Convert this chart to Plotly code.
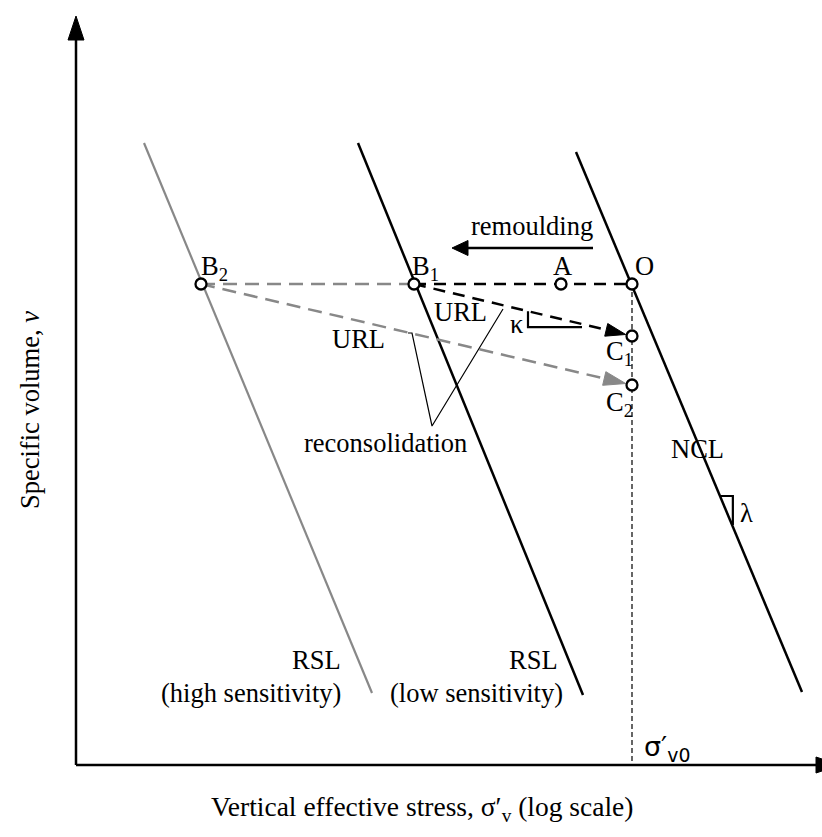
import math
import plotly.graph_objects as go

# ---- chart data (x: log vertical effective stress, v: specific volume; arbitrary units) ----
ncl_x = [5.00, 7.26]
ncl_v = [6.13, 0.73]
rsl_low_x = [2.82, 5.07]
rsl_low_v = [6.22, 0.70]
rsl_high_x = [0.68, 2.96]
rsl_high_v = [6.22, 0.72]

point_names = ["O", "A", "B1", "B2", "C1", "C2"]
point_x = [5.56, 4.85, 3.38, 1.25, 5.56, 5.56]
point_v = [4.81, 4.81, 4.81, 4.81, 4.29, 3.80]

remould_x = [5.17, 3.76]   # remoulding arrow: start, tip
remould_v = [5.17, 5.17]

leader_x = [3.32, 3.36, 3.56, 4.27]   # "reconsolidation" pointer lines
leader_v = [4.32, 4.32, 3.39, 4.56]

kappa_x = [4.52, 5.06]      # slope marker span on the URL
lambda_v = [2.69, 2.40]     # slope marker span on the NCL

axis_x_end = 7.64
axis_v_end = 7.49

P = dict(zip(point_names, zip(point_x, point_v)))

FONT = "Liberation Serif, Times New Roman, serif"
BLACK = "#000000"
GREY = "#888888"
PX = 100.0  # screen pixels per unit on both axes
LBL = 26.5

fig = go.Figure()


def line(xs, ys, color=BLACK, width=2.5, dash="solid"):
    fig.add_trace(go.Scatter(x=xs, y=ys, mode="lines", hoverinfo="skip",
                             line=dict(color=color, width=width, dash=dash)))


def head(tip, frm, length_px, half_px, color):
    dx, dy = tip[0] - frm[0], tip[1] - frm[1]
    n = math.hypot(dx, dy)
    ux, uy = dx / n, dy / n
    bx, by = tip[0] - ux * length_px / PX, tip[1] - uy * length_px / PX
    px_, py_ = -uy * half_px / PX, ux * half_px / PX
    xs = [tip[0], bx + px_, bx - px_, tip[0]]
    ys = [tip[1], by + py_, by - py_, tip[1]]
    fig.add_trace(go.Scatter(x=xs, y=ys, mode="lines", fill="toself", fillcolor=color,
                             line=dict(color=color, width=1), hoverinfo="skip"))
    return (bx, by)


def back_off(a, b, dist):
    dx, dy = b[0] - a[0], b[1] - a[1]
    n = math.hypot(dx, dy)
    return (b[0] - dx / n * dist, b[1] - dy / n * dist)


# axes with arrowheads
line([0, 0], [0, axis_v_end - 0.2])
head((0, axis_v_end), (0, 0), 24, 8, BLACK)
line([0, axis_x_end - 0.2], [0, 0])
head((axis_x_end, 0), (0, 0), 24, 8, BLACK)

# compression lines
line(rsl_high_x, rsl_high_v, color=GREY, width=2.2)
line(rsl_low_x, rsl_low_v, width=2.5)
line(ncl_x, ncl_v, width=2.5)

# vertical reference at sigma'v0
line([P["O"][0], P["O"][0]], [P["O"][1], 0], width=1.2, dash="5px,3px")

# remoulding paths along constant volume
line([P["B2"][0], P["B1"][0]], [P["B2"][1], P["B1"][1]], color=GREY, width=2.5, dash="14px,8px")
line([P["B1"][0], P["O"][0]], [P["B1"][1], P["O"][1]], width=2.5, dash="12px,8px")

# reconsolidation paths (URL)
tip2 = back_off(P["B2"], P["C2"], 0.065)
base2 = head(tip2, P["B2"], 22, 7, GREY)
line([P["B2"][0], base2[0]], [P["B2"][1], base2[1]], color=GREY, width=2.5, dash="14px,8px")

tip1 = back_off(P["B1"], P["C1"], 0.065)
base1 = head(tip1, P["B1"], 20, 6.5, BLACK)
line([P["B1"][0], base1[0]], [P["B1"][1], base1[1]], width=2.5, dash="12px,8px")

# remoulding arrow
rb = head((remould_x[1], remould_v[1]), (remould_x[0], remould_v[0]), 16, 7.5, BLACK)
line([remould_x[0], rb[0]], [remould_v[0], rb[1]], width=2.5)

# kappa slope marker
b1, c1 = P["B1"], P["C1"]
url_slope = (c1[1] - b1[1]) / (c1[0] - b1[0])
k_top = b1[1] + url_slope * (kappa_x[0] - b1[0])
k_low = b1[1] + url_slope * (kappa_x[1] - b1[0]) - 0.03
line([kappa_x[0], kappa_x[0], kappa_x[1]], [k_top, k_low, k_low], width=2.2)

# lambda slope marker
o = P["O"]
ncl_dxdv = (ncl_x[1] - ncl_x[0]) / (ncl_v[1] - ncl_v[0])
l_x1 = o[0] + ncl_dxdv * (lambda_v[0] - o[1])
l_x2 = o[0] + ncl_dxdv * (lambda_v[1] - o[1])
line([l_x1, l_x2, l_x2], [lambda_v[0], lambda_v[0], lambda_v[1]], width=2.2)

# reconsolidation pointer lines
line(leader_x, leader_v, width=1.2)

# state points
fig.add_trace(go.Scatter(x=point_x, y=point_v, mode="markers", hoverinfo="skip",
                         marker=dict(size=11, color="white", line=dict(color=BLACK, width=2.3))))

# ---- text ----
def label(x, y, text, size=LBL, xanchor="center", yanchor="middle", color=BLACK, family=FONT):
    fig.add_annotation(x=x, y=y, text=text, showarrow=False, xanchor=xanchor, yanchor=yanchor,
                       font=dict(family=family, size=size, color=color))


label(1.38, 4.97, "B<sub>2</sub>")
label(3.49, 4.97, "B<sub>1</sub>")
label(4.86, 4.99, "A")
label(5.68, 4.99, "O")
label(5.43, 4.12, "C<sub>1</sub>")
label(5.43, 3.61, "C<sub>2</sub>")
label(3.84, 4.53, "URL")
label(2.82, 4.26, "URL")
label(3.09, 3.22, "reconsolidation")
label(4.40, 4.41, "κ")
label(6.21, 3.16, "NCL")
label(6.70, 2.52, "λ")
label(4.56, 5.39, "remoulding")
label(2.67, 1.05, "RSL", xanchor="right")
label(2.67, 0.72, "(high sensitivity)", xanchor="right")
label(4.84, 1.05, "RSL", xanchor="right")
label(4.00, 0.72, "(low sensitivity)")
label(5.66, 0.17, "σ′<sub>v0</sub>", size=27, xanchor="left",
      family="DejaVu Sans, Liberation Sans, sans-serif")

fig.add_annotation(x=0.513, xref="paper", y=-0.43, yref="y",
                   text="Vertical effective stress, σ′<sub>v</sub> (log scale)",
                   showarrow=False, font=dict(family=FONT, size=27.5, color=BLACK))
fig.add_annotation(x=-0.46, y=3.55, text="Specific volume, <i>ν</i>", textangle=-90,
                   showarrow=False, font=dict(family=FONT, size=26.5, color=BLACK))

fig.update_layout(
    width=822, height=837,
    margin=dict(l=0, r=0, t=0, b=0),
    paper_bgcolor="white", plot_bgcolor="white",
    showlegend=False,
    xaxis=dict(range=[-0.76, 7.46], visible=False, fixedrange=True),
    yaxis=dict(range=[-0.72, 7.65], visible=False, fixedrange=True),
)

fig.write_html("out.html")
